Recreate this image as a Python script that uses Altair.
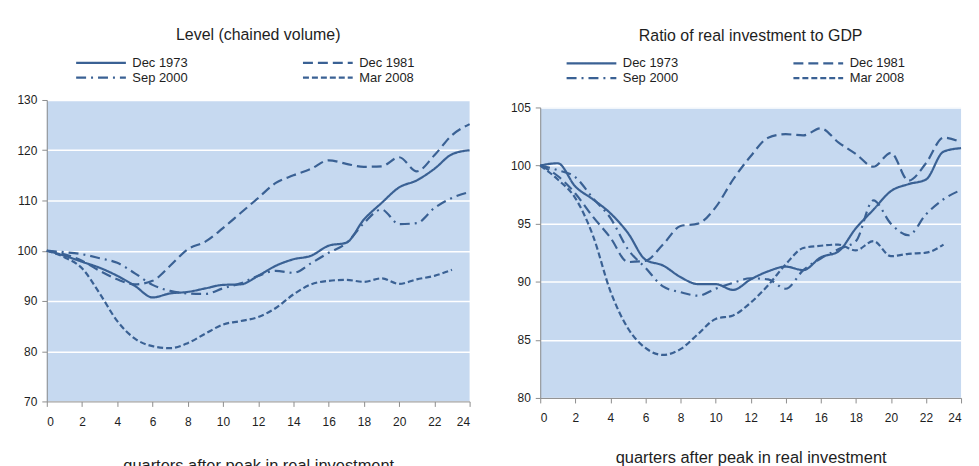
import altair as alt
import pandas as pd

quarters = list(range(25))
series_names = ["Dec 1973", "Dec 1981", "Sep 2000", "Mar 2008"]

# Level (chained volume)
level_dec1973 = [100, 99, 97.8, 96.6, 95, 93, 90.7, 91.5, 91.8, 92.5, 93.2, 93.3, 95, 97, 98.3, 99, 101, 101.6, 106.2, 109.5, 112.6, 114, 116.3, 119.2, 120]
level_dec1981 = [100, 99.3, 98, 96, 94.3, 93.3, 94, 97, 100.3, 101.8, 104.5, 107.5, 110.5, 113.5, 115, 116.3, 118, 117.3, 116.7, 116.8, 118.6, 115.8, 119, 123, 125.2]
level_sep2000 = [100, 99.7, 99.3, 98.5, 97.6, 95.5, 93.2, 92, 91.5, 91.4, 92.5, 93.5, 95, 96, 95.6, 97.5, 99.6, 101.5, 105.5, 108.2, 105.3, 105.5, 108.5, 110.5, 111.7]
level_mar2008 = [100, 98.7, 96.5, 91.5, 86, 82.5, 81, 80.6, 81.6, 83.5, 85.3, 86, 86.8, 88.6, 91.3, 93.3, 94, 94.2, 93.8, 94.5, 93.4, 94.3, 95, 96.2]

# Ratio of real investment to GDP
ratio_dec1973 = [100, 100.2, 98.2, 97.1, 95.9, 94.2, 91.9, 91.4, 90.4, 89.8, 89.8, 89.3, 90.2, 90.9, 91.3, 91, 92.1, 92.6, 94.6, 96.2, 97.8, 98.4, 98.8, 101.2, 101.5]
ratio_dec1981 = [100, 99.1, 97.6, 95.6, 93.8, 91.7, 91.8, 93.2, 94.8, 95, 96.4, 98.8, 100.8, 102.4, 102.7, 102.6, 103.2, 102, 101, 99.9, 101.1, 98.7, 100.2, 102.4, 102]
ratio_sep2000 = [100, 99.6, 99, 97.2, 95.5, 92.8, 91.2, 89.6, 89.1, 88.8, 89.4, 89.9, 90.3, 90.2, 89.4, 91, 92, 92.8, 93.5, 97, 95, 94, 95.8, 97.1, 97.9]
ratio_mar2008 = [100, 98.8, 97.2, 94, 89.2, 86, 84.3, 83.7, 84.2, 85.5, 86.8, 87.1, 88.2, 89.7, 91.5, 92.9, 93.1, 93.2, 92.7, 93.5, 92.2, 92.4, 92.5, 93.2]

x_ticks = list(range(0, 25, 2))
level_ticks = [70, 80, 90, 100, 110, 120, 130]
ratio_ticks = [80, 85, 90, 95, 100, 105]

LINE = "#3a6194"
BG = "#c6d9f0"
TXT = "#1e1e1e"
FONT = "Liberation Sans"
dashes = [[1, 0], [10, 5], [10, 5, 2, 5], [6, 3]]


def long_df(series_list):
    rows = []
    for name, vals in zip(series_names, series_list):
        for q, v in zip(quarters, vals):
            rows.append({"quarter": q, "value": v, "series": name})
    return pd.DataFrame(rows)


def panel(df, title, ticks, w, h, legend_x, legend_y, title_off, title_pad):
    return alt.Chart(df, title=alt.Title(title, fontSize=16, fontWeight="normal", font=FONT,
                                         color=TXT, offset=title_off)).mark_line(
        interpolate="monotone", strokeWidth=2.2, color=LINE
    ).encode(
        x=alt.X("quarter:Q", scale=alt.Scale(domain=[0, 24], nice=False),
                axis=alt.Axis(values=x_ticks, title="quarters after peak in real investment", grid=False,
                              titlePadding=title_pad, titleFontSize=16.5, titleFontWeight="normal",
                              labelPadding=10)),
        y=alt.Y("value:Q", scale=alt.Scale(domain=[ticks[0], ticks[-1]], nice=False, zero=False),
                axis=alt.Axis(values=ticks, title=None, grid=True, gridColor="white", gridWidth=1.5,
                              labelPadding=5)),
        strokeDash=alt.StrokeDash("series:N", scale=alt.Scale(domain=series_names, range=dashes),
                                  legend=alt.Legend(title=None, orient="none", legendX=legend_x,
                                                    legendY=legend_y, direction="horizontal",
                                                    columns=2, columnPadding=111,
                                                    symbolType="M-1,0L9,0", symbolSize=100,
                                                    symbolStrokeWidth=2.2, symbolFillColor="transparent",
                                                    symbolStrokeColor=LINE, labelOffset=45,
                                                    labelFontSize=13, labelFont=FONT, labelColor=TXT,
                                                    rowPadding=1)),
    ).properties(width=w, height=h)


left = panel(long_df([level_dec1973, level_dec1981, level_sep2000, level_mar2008]),
             "Level (chained volume)", level_ticks, 425, 303, 28, -44, 13, 30)
right = panel(long_df([ratio_dec1973, ratio_dec1981, ratio_sep2000, ratio_mar2008]),
              "Ratio of real investment to GDP", ratio_ticks, 423, 292, 25, -51, 13, 26)

chart = alt.hconcat(left, right, spacing=35, center=True).resolve_legend(
    strokeDash="independent"
).properties(
    padding={"left": 8, "top": 18, "right": 5, "bottom": 5}, background="white"
).configure_view(fill=BG, stroke=None).configure_axis(
    domainColor="#8c8c8c", tickColor="#8c8c8c", tickSize=5, labelFont=FONT, titleFont=FONT,
    labelFontSize=12, labelColor=TXT, titleColor=TXT
)

chart.save("out.html", embed_options={"renderer": "svg", "actions": False})
